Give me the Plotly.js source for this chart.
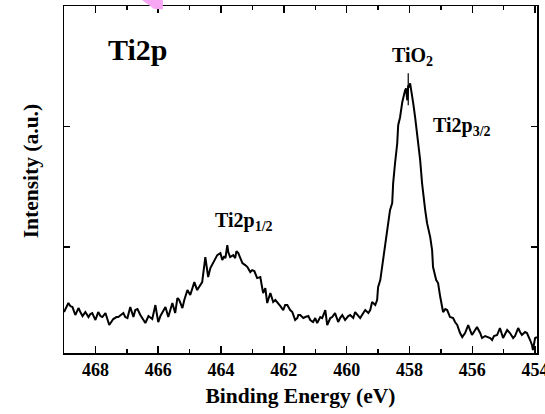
<!DOCTYPE html>
<html>
<head>
<meta charset="utf-8">
<script src="https://cdn.plot.ly/plotly-3.0.1.min.js"></script>
<style>html,body{margin:0;padding:0;background:#fff;}#chart{width:545px;height:414px;}</style>
</head>
<body>
<div id="chart"></div>
<script>
// Binding energy (eV)
const bindingEnergy = [469.00,468.92,468.86,468.80,468.73,468.64,468.54,468.48,468.41,468.32,468.22,468.16,468.10,468.00,467.91,467.84,467.78,467.68,467.62,467.56,467.43,467.33,467.27,467.17,467.11,467.05,466.98,466.89,466.79,466.73,466.66,466.57,466.51,466.41,466.31,466.25,466.19,466.09,466.00,465.93,465.87,465.77,465.68,465.61,465.55,465.46,465.39,465.33,465.23,465.17,465.07,464.98,464.91,464.85,464.76,464.66,464.60,464.50,464.41,464.34,464.25,464.18,464.12,464.02,463.96,463.90,463.86,463.80,463.77,463.71,463.61,463.55,463.51,463.45,463.39,463.32,463.23,463.16,463.07,463.01,462.94,462.85,462.75,462.66,462.59,462.53,462.43,462.34,462.27,462.18,462.11,462.02,461.96,461.89,461.80,461.73,461.64,461.57,461.54,461.48,461.38,461.32,461.22,461.16,461.07,461.00,460.94,460.84,460.78,460.68,460.62,460.52,460.46,460.37,460.30,460.27,460.21,460.14,460.05,459.95,459.89,459.79,459.73,459.63,459.57,459.47,459.41,459.31,459.25,459.19,459.09,459.03,459.00,458.93,458.87,458.84,458.77,458.68,458.62,458.55,458.52,458.46,458.39,458.36,458.33,458.30,458.23,458.20,458.14,458.11,458.07,458.04,458.01,457.98,457.92,457.88,457.82,457.76,457.72,457.66,457.60,457.56,457.50,457.44,457.34,457.28,457.25,457.15,457.09,457.02,456.93,456.86,456.80,456.71,456.61,456.55,456.48,456.39,456.32,456.23,456.16,456.13,456.07,456.01,455.91,455.85,455.75,455.69,455.59,455.53,455.43,455.37,455.31,455.21,455.12,455.02,454.96,454.89,454.80,454.70,454.64,454.54,454.48,454.42,454.32,454.26,454.16,454.10,454.07,454.00,453.94];
// Intensity (a.u.)
const intensity = [410,470,500,470,460,380,450,410,370,410,360,390,400,330,410,370,360,400,350,280,340,360,360,390,400,360,350,460,360,430,440,380,350,300,370,350,340,480,310,370,410,460,360,430,500,400,550,530,450,530,630,580,650,710,630,690,710,960,760,850,900,950,980,1000,930,970,950,1080,1010,960,980,950,1020,1000,950,900,880,860,810,830,820,750,760,600,650,500,600,510,530,500,470,430,480,480,430,410,330,350,380,380,350,360,370,330,310,350,300,360,350,430,280,350,360,400,330,310,350,380,330,370,380,350,410,370,350,400,430,400,430,510,480,530,660,730,860,950,1100,1260,1430,1500,1700,1900,2100,2280,2310,2360,2510,2560,2630,2650,2530,2680,2660,2700,2600,2500,2360,2200,2130,1930,1700,1560,1430,1300,1160,1030,860,730,700,560,410,440,430,360,350,310,280,200,160,200,270,280,230,180,230,260,200,150,170,160,150,130,170,180,250,150,190,230,200,150,170,250,210,180,210,200,130,80,30,150,160];

const xTickVals = [468,466,464,462,460,458,456,454];
const xTickText = ["468","466","464","462","460","458","456","454"];

const serif = '"Liberation Serif","Times New Roman",Times,serif';

const trace = {
  x: bindingEnergy, y: intensity, type: 'scatter', mode: 'lines',
  line: {color: '#000', width: 2}, hoverinfo: 'skip', showlegend: false
};

const layout = {
  width: 545, height: 414,
  margin: {l: 63.6, r: 8, t: 5.6, b: 61, pad: 0},
  paper_bgcolor: '#fff', plot_bgcolor: '#fff',
  font: {family: serif, color: '#000'},
  xaxis: {
    range: [469, 453.94], showgrid: false, zeroline: false,
    showline: true, linecolor: '#000', linewidth: 1.5, mirror: 'ticks',
    ticks: 'inside', ticklen: 7, tickwidth: 1.5, tickcolor: '#000',
    tickvals: xTickVals, ticktext: xTickText, ticklabeloverflow: 'allow',
    tickfont: {family: serif, size: 18, color: '#000', weight: 'bold'},
    minor: {dtick: 1, tick0: 453, ticks: 'inside', ticklen: 4, tickwidth: 1.5, tickcolor: '#000', showgrid: false},
    title: {text: '<b>Binding Energy (eV)</b>', font: {family: serif, size: 21.5, color: '#000'}, standoff: 9}
  },
  yaxis: {
    range: [0, 3474], showgrid: false, zeroline: false,
    showline: true, linecolor: '#000', linewidth: 1.5, mirror: 'ticks',
    ticks: 'inside', ticklen: 6, tickwidth: 1.5, tickcolor: '#000',
    tick0: 1060, dtick: 1210, showticklabels: false
  },
  annotations: [
    {x: -0.071, y: 0.525, xref: 'paper', yref: 'paper', text: '<b>Intensity (a.u.)</b>', textangle: -90,
     showarrow: false, xanchor: 'center', yanchor: 'middle',
     font: {family: serif, size: 21.5, color: '#000'}},
    {x: 466.65, y: 3040, xref: 'x', yref: 'y', text: '<b>Ti2p</b>', showarrow: false,
     font: {family: serif, size: 30, color: '#000'}},
    {x: 457.92, y: 2970, xref: 'x', yref: 'y', text: '<b>TiO<sub>2</sub></b>', showarrow: false,
     font: {family: serif, size: 20, color: '#000'}},
    {x: 456.32, y: 2270, xref: 'x', yref: 'y', text: '<b>Ti2p<sub>3/2</sub></b>', showarrow: false,
     font: {family: serif, size: 20, color: '#000'}},
    {x: 463.26, y: 1320, xref: 'x', yref: 'y', text: '<b>Ti2p<sub>1/2</sub></b>', showarrow: false,
     font: {family: serif, size: 20, color: '#000'}}
  ],
  shapes: [
    {type: 'line', xref: 'x', yref: 'y', x0: 458.04, x1: 458.04, y0: 2480, y1: 2800,
     line: {color: '#000', width: 1.2}},
    {type: 'path', xref: 'paper', yref: 'paper', layer: 'above',
     path: 'M 0.165 1.017 L 0.209 1.017 L 0.209 0.99 L 0.19 0.992 Z',
     fillcolor: '#f7a6f3', line: {width: 0}}
  ]
};

Plotly.newPlot('chart', [trace], layout, {displayModeBar: false, staticPlot: true});
</script>
</body>
</html>
